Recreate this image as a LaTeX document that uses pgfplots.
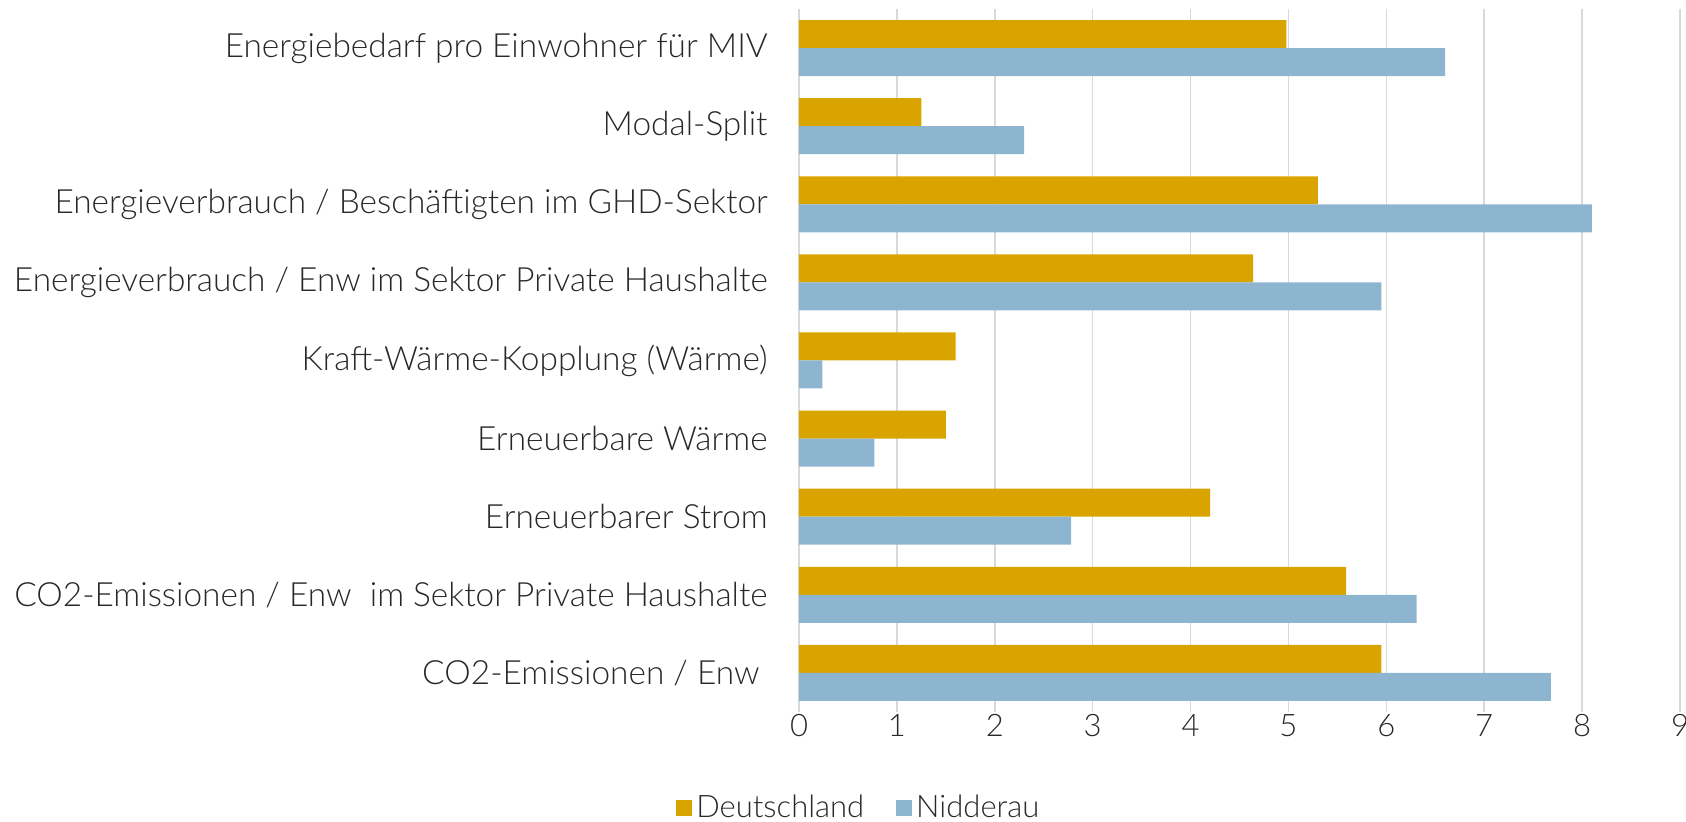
\documentclass[border=0pt]{standalone}
\usepackage{fontspec}
\setmainfont{Lato Light}
\usepackage{pgfplots}
\pgfplotsset{compat=1.18}
\definecolor{de}{RGB}{217,164,0}
\definecolor{nd}{RGB}{141,181,208}
\definecolor{gridc}{RGB}{217,217,217}
\definecolor{txt}{RGB}{40,40,40}
\begin{document}
\begin{tikzpicture}
\useasboundingbox (0,0) rectangle (843pt,411pt);
\begin{axis}[
  at={(399.5pt,55pt)}, anchor=south west,
  scale only axis, width=440.5pt, height=351.5pt,
  xbar, bar width=14pt,
  xmin=0, xmax=9, ymin=-0.5, ymax=8.5,
  xtick={0,...,9}, ytick={0,...,8},
  yticklabels={{CO2-Emissionen / Enw\kern4pt}, {CO2-Emissionen / Enw\ \ im Sektor Private Haushalte}, {Erneuerbarer Strom}, {Erneuerbare Wärme}, {Kraft-Wärme-Kopplung (Wärme)}, {Energieverbrauch / Enw im Sektor Private Haushalte}, {Energieverbrauch / Beschäftigten im GHD-Sektor}, {Modal-Split}, {Energiebedarf pro Einwohner für MIV}},
  axis line style={draw=none}, major tick length=0pt,
  xmajorgrids, major grid style={gridc, line width=0.75pt},
  /pgf/number format/assume math mode=true,
  xticklabel style={font=\fontsize{15.5}{18}\selectfont, text=txt, anchor=north, inner sep=0pt, yshift=-1.2pt},
  yticklabel style={font=\fontsize{16.7}{20}\selectfont, text=txt, anchor=east, inner sep=0pt, xshift=-15.5pt},
  legend style={at={(0.069,-0.136)}, anchor=center, draw=none, fill=none,
    legend columns=2, font=\fontsize{15.5}{18}\selectfont, text=txt,
    /tikz/every odd column/.append style={column sep=0pt},
    /tikz/every even column/.append style={column sep=14pt}},
  legend image code/.code={\draw[#1, draw=none] (0pt,-4pt) rectangle (8pt,4pt);},
]
\addplot[fill=de, draw=none, bar shift=7pt] coordinates {
  (5.95,0) (5.59,1) (4.20,2) (1.50,3) (1.60,4) (4.64,5) (5.30,6) (1.25,7) (4.98,8)};
\addplot[fill=nd, draw=none, bar shift=-7pt] coordinates {
  (7.68,0) (6.31,1) (2.78,2) (0.77,3) (0.24,4) (5.95,5) (8.10,6) (2.30,7) (6.60,8)};
\legend{Deutschland, Nidderau}
\end{axis}
\end{tikzpicture}
\end{document}
